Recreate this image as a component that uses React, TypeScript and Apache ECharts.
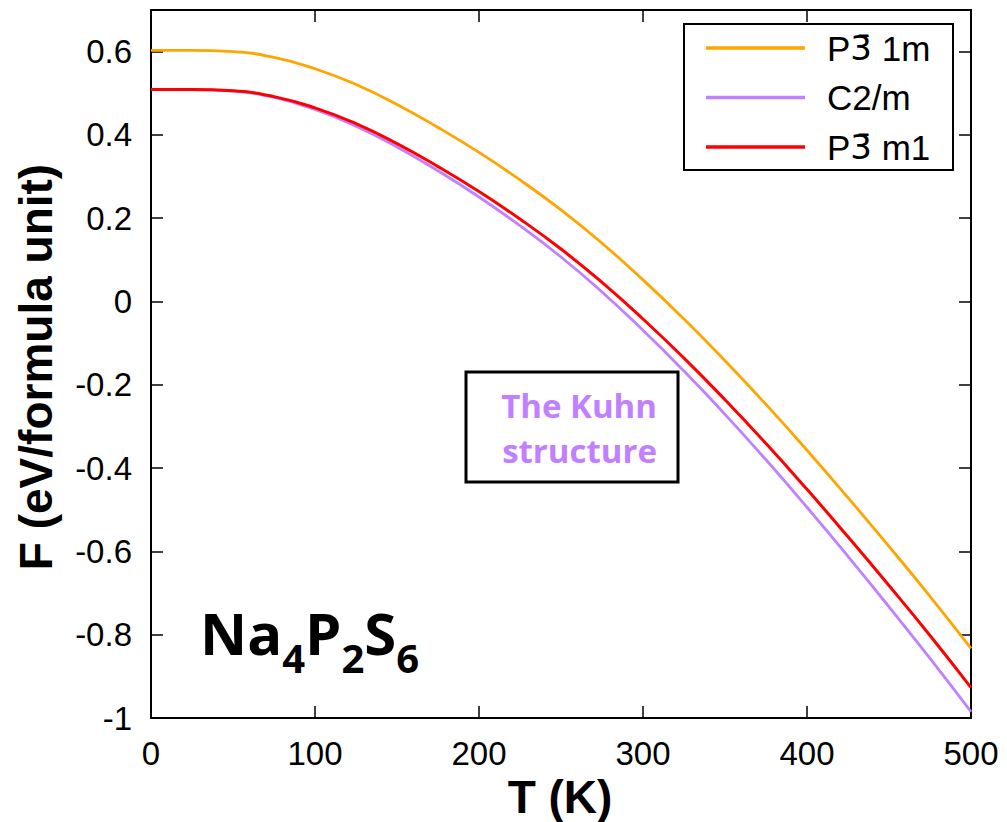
import React, { useEffect, useRef } from "react";
import * as echarts from "echarts";

// Temperature grid (K)
const temperatures = [0, 25, 50, 75, 100, 125, 150, 175, 200, 225, 250, 275, 300, 325, 350, 375, 400, 425, 450, 475, 500];

// Free energy F (eV/formula unit)
const fP31m = [0.603, 0.603, 0.6, 0.586, 0.559, 0.521, 0.473, 0.418, 0.358, 0.292, 0.22, 0.14, 0.052, -0.042, -0.142, -0.247, -0.357, -0.471, -0.588, -0.708, -0.833];
const fC2m = [0.509, 0.509, 0.505, 0.49, 0.461, 0.421, 0.371, 0.314, 0.251, 0.182, 0.107, 0.023, -0.069, -0.167, -0.271, -0.38, -0.494, -0.612, -0.733, -0.857, -0.985];
const fP3m1 = [0.509, 0.509, 0.506, 0.492, 0.465, 0.427, 0.379, 0.324, 0.264, 0.198, 0.126, 0.046, -0.042, -0.136, -0.236, -0.341, -0.451, -0.565, -0.682, -0.802, -0.927];

const seriesNames = ["P3\u03041m", "C2/m", "P3\u0304m1"];
const legendRich: Record<string, string> = {
  "P3\u03041m": "{t|P}{o|3\u0304}{t| 1m}",
  "C2/m": "{t|C2/m}",
  "P3\u0304m1": "{t|P}{o|3\u0304}{t| m1}",
};
const seriesColors = ["#FFA500", "#C080FF", "#FF0000"];

const xTitle = "T (K)";
const yTitle = "F (eV/formula unit)";
const noteLines = ["The Kuhn", "structure"];

const AXIS_FONT = "'Liberation Sans', Arial, Helvetica, sans-serif";
const NOTE_FONT = "'Open Sans', 'Noto Sans', sans-serif";

export default function App() {
  const ref = useRef<HTMLDivElement>(null);

  useEffect(() => {
    document.body.style.margin = "0";
    if (!ref.current) return;
    const chart = echarts.init(ref.current, undefined, { renderer: "svg" });

    const toPairs = (vals: number[]) => temperatures.map((t, i) => [t, vals[i]]);
    const allValues = [fP31m, fC2m, fP3m1];

    const axisLine = { show: true, onZero: false, lineStyle: { color: "#000", width: 2 } };
    const axisTick = { show: true, inside: true, length: 12, lineStyle: { color: "#000", width: 1.5 } };
    const axisLabel = { fontSize: 33, color: "#000", fontFamily: AXIS_FONT, margin: 19 };

    chart.setOption({
      animation: false,
      backgroundColor: "#fff",
      grid: { left: 151, right: 36, top: 10, bottom: 104 },
      xAxis: [
        {
          type: "value", min: 0, max: 500, interval: 100, position: "bottom",
          axisLine, axisTick, axisLabel, splitLine: { show: false },
        },
        {
          type: "value", min: 0, max: 500, interval: 100, position: "top",
          axisLine, axisTick, axisLabel: { show: false }, splitLine: { show: false },
        },
      ],
      yAxis: [
        {
          type: "value", min: -1, max: 0.7, interval: 0.2, position: "left",
          axisLine, axisTick, axisLabel: { ...axisLabel, showMaxLabel: false }, splitLine: { show: false },
        },
        {
          type: "value", min: -1, max: 0.7, interval: 0.2, position: "right",
          axisLine, axisTick, axisLabel: { show: false }, splitLine: { show: false },
        },
      ],
      legend: {
        orient: "vertical",
        left: 706,
        top: 30.5,
        padding: 0,
        itemWidth: 99,
        itemHeight: 3.5,
        itemGap: 14.5,
        icon: "rect",
        data: seriesNames,
        formatter: (name: string) => legendRich[name] ?? name,
        textStyle: {
          fontSize: 35,
          lineHeight: 35,
          color: "#000",
          fontFamily: AXIS_FONT,
          padding: [0, 0, 0, 17],
          rich: {
            t: { fontSize: 35, lineHeight: 35, color: "#000", fontFamily: AXIS_FONT },
            o: { fontSize: 34, lineHeight: 35, color: "#000", fontFamily: "'DejaVu Sans', sans-serif" },
          },
        },
        z: 20,
      },
      series: seriesNames.map((name, i) => ({
        name,
        type: "line",
        data: toPairs(allValues[i]),
        xAxisIndex: 0,
        yAxisIndex: 0,
        showSymbol: false,
        symbol: "none",
        smooth: 0.5,
        color: seriesColors[i],
        lineStyle: { color: seriesColors[i], width: i === 2 ? 3 : 2.8 },
        z: 3 + i,
      })),
      graphic: [
        {
          type: "rect",
          z: 10,
          shape: { x: 684, y: 24, width: 269, height: 146 },
          style: { fill: "#fff", stroke: "#000", lineWidth: 2 },
        },
        {
          type: "rect",
          z: 10,
          shape: { x: 466, y: 372, width: 212, height: 110 },
          style: { fill: "#fff", stroke: "#000", lineWidth: 3 },
        },
        ...noteLines.map((line, i) => ({
          type: "text",
          z: 11,
          x: 657,
          y: 405 + i * 45,
          style: {
            text: line,
            fill: "#C080FF",
            fontSize: 33,
            fontWeight: "bold",
            fontFamily: NOTE_FONT,
            align: "right",
            verticalAlign: "middle",
          },
        })),
        {
          type: "text",
          z: 11,
          x: 200,
          y: 603,
          style: {
            text: "{m|Na}{s|4}{m|P}{s|2}{m|S}{s|6}",
            fill: "#000",
            align: "left",
            verticalAlign: "top",
            rich: {
              m: { fontSize: 58, lineHeight: 58, fontWeight: "bold", fontFamily: NOTE_FONT, fill: "#000", verticalAlign: "top" },
              s: { fontSize: 40, lineHeight: 40, fontWeight: "bold", fontFamily: NOTE_FONT, fill: "#000", verticalAlign: "top", padding: [34, 0, 0, 0] },
            },
          },
        },
        {
          type: "text",
          z: 11,
          x: 560,
          y: 797,
          style: {
            text: xTitle,
            fill: "#000",
            fontSize: 46,
            fontWeight: "bold",
            fontFamily: AXIS_FONT,
            align: "center",
            verticalAlign: "middle",
          },
        },
        {
          type: "text",
          z: 11,
          x: 36,
          y: 367,
          rotation: Math.PI / 2,
          style: {
            text: yTitle,
            fill: "#000",
            fontSize: 46,
            fontWeight: "bold",
            fontFamily: AXIS_FONT,
            align: "center",
            verticalAlign: "middle",
          },
        },
      ],
    });

    return () => chart.dispose();
  }, []);

  return (
    <div
      ref={ref}
      style={{ position: "absolute", left: 0, top: 0, width: 1007, height: 822 }}
    />
  );
}
